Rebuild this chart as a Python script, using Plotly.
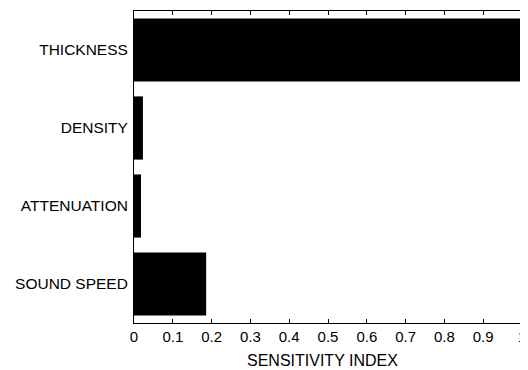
import plotly.graph_objects as go

categories = ["THICKNESS", "DENSITY", "ATTENUATION", "SOUND SPEED"]
values = [1.0, 0.023, 0.018, 0.186]
tick_vals = [0, 0.1, 0.2, 0.3, 0.4, 0.5, 0.6, 0.7, 0.8, 0.9, 1]
tick_text = ["0", "0.1", "0.2", "0.3", "0.4", "0.5", "0.6", "0.7", "0.8", "0.9", "1"]
x_title = "SENSITIVITY INDEX"

fig = go.Figure(go.Bar(
    x=values, y=categories, orientation="h",
    marker=dict(color="black", line=dict(width=0)),
))

fam = "Liberation Sans, Arial, sans-serif"
yfont = dict(family=fam, size=15.5, color="black")
xfont = dict(family=fam, size=15, color="black")
tfont = dict(family=fam, size=16, color="black")
# page body has an 8px default margin; compensate so the plot lands where the reference has it
fig.update_layout(
    width=520, height=362,
    margin=dict(l=126, r=6, t=3, b=47),
    paper_bgcolor="white", plot_bgcolor="white",
    bargap=0.19, showlegend=False, font=yfont,
    xaxis=dict(range=[0, 1], tickvals=tick_vals, ticktext=tick_text,
               automargin=False,
               showgrid=False, zeroline=False, showline=True, linecolor="black",
               linewidth=1, mirror="ticks", ticks="inside", ticklen=4,
               tickcolor="black", tickfont=xfont),
    yaxis=dict(categoryorder="array", categoryarray=categories[::-1],
               automargin=False, tickfont=yfont, ticklabelstandoff=2,
               showgrid=False, zeroline=False, showline=True, linecolor="black",
               linewidth=1, mirror=True, ticks="", ticklen=0),
    annotations=[dict(text=x_title, xref="paper", yref="paper", x=0.485, y=-0.088,
                      xanchor="center", yanchor="top", showarrow=False,
                      font=tfont)],
)
fig.write_html("out.html")
